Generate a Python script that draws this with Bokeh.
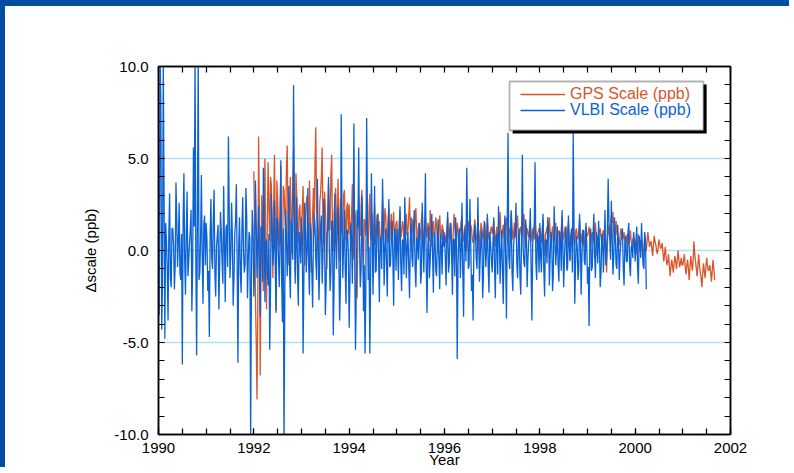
from bokeh.plotting import figure
from bokeh.models import (Range1d, FixedTicker, LinearAxis, PrintfTickFormatter,
                          Legend, LegendItem, BoxAnnotation)
from bokeh.embed import file_html
from bokeh.resources import INLINE

SAMPLES_PER_YEAR = 30

# ---- VLBI scale (ppb): two interleaved lists per year (sample i at i/30 yr, and at (i+0.5)/30 yr) ----
vlbi_1990 = [2.5, 10.5, -4.3, 10.5, -4.8, 0.6, -3.8, 3.1, -2.0, 1.2, -2.1, 3.7, -0.9, 2.6, -1.6,
             -6.2, 4.2, -2.4, 3.2, -0.6, 1.1, -3.3, 5.6, 10.5, -5.7, 10.5, -1.2, 4.1, -2.9, 1.9]
vlbi_1990b = [-3.5, 8.0, -2.0, 3.0, 1.5, -1.0, 0.8, -1.5, 1.2, 0.3, -0.8, 1.6, 0.5, -1.2, 0.9,
              1.8, -0.6, 1.0, -1.4, 0.4, 2.2, -0.9, 1.3, -0.5, 2.0, -1.6, 0.7, -0.3, 1.4, -0.8]
vlbi_1991 = [1.5, -2.2, -4.7, 2.8, -1.0, 3.3, -2.5, 0.8, -3.2, 2.1, -0.6, 3.5, -2.8, 1.4, 6.2,
             -1.5, 2.6, -3.0, 0.9, 3.6, -6.1, 1.8, -2.3, 2.9, -1.2, 3.4, -2.6, 1.0, -10.5, 2.2]
vlbi_1991b = [0.6, -1.1, 0.9, -0.4, 1.7, -1.3, 0.2, 1.4, -0.7, 1.0, -1.8, 0.5, 1.2, -0.9, 2.3,
              -0.2, 0.8, -1.5, 1.6, -0.6, 0.3, -1.2, 1.1, 0.0, -0.8, 1.9, -0.5, 0.7, -1.4, 1.3]
vlbi_1992 = [-2.5, 3.8, -1.5, 2.4, -3.6, 1.2, 4.5, -2.8, 0.6, -1.9, -5.4, 3.1, -0.8, 2.7, -3.3,
             1.5, -2.0, 4.9, -3.9, -10.5, 2.2, -1.4, 3.5, -2.6, 1.0, 9.0, -1.8, 2.9, -3.0, 0.5]
vlbi_1992b = [-1.0, 1.6, 0.2, -0.9, 1.3, -1.7, 2.0, 0.4, -1.2, 0.9, -2.2, 1.5, 0.1, -1.0, 1.8,
              -0.4, 0.6, -1.6, 1.2, -2.4, 0.8, 0.3, -1.1, 1.7, -0.5, 2.6, 0.2, -1.3, 1.0, -0.7]
vlbi_1993 = [1.8, -5.6, 2.6, -1.2, 3.4, -2.4, 0.7, -3.1, 2.0, -0.5, 3.9, -2.7, 1.3, -1.8, 2.8,
             -3.5, 0.9, 4.0, -2.2, 1.6, -4.6, 3.1, -1.0, 2.4, -3.8, 7.4, -1.5, 2.2, -2.9, 1.1]
vlbi_1993b = [0.9, -1.4, 1.2, 0.0, -0.8, 1.5, -1.1, 0.6, 1.3, -1.6, 0.4, -0.6, 1.9, -0.3, 0.8,
              -1.9, 1.1, 0.2, -1.2, 1.6, -2.0, 0.7, 1.4, -0.4, -1.7, 1.8, 0.3, -0.9, 1.1, -0.2]
vlbi_1994 = [-4.2, 1.5, -1.8, 6.9, -5.4, 2.2, 5.6, -2.0, 3.0, -3.3, -5.6, 7.2, -1.6, -5.6, 4.2,
             -2.4, 3.5, -1.1, 2.0, -2.8, 0.6, 3.9, -1.9, 1.2, -2.5, 2.8, -0.8, 1.6, -3.0, 0.9]
vlbi_1994b = [-1.5, 0.8, 1.4, -0.6, -1.9, 1.2, 0.5, -1.1, 1.6, -0.8, -2.1, 1.9, 0.2, -1.4, 1.0,
              0.4, -1.2, 1.3, -0.3, 0.7, -1.0, 1.5, 0.1, -0.7, 1.1, -0.9, 0.6, -0.4, 1.2, -1.1]
vlbi_1995 = [1.2, -1.6, 2.4, -2.2, 0.5, 2.9, -1.5, 1.0, -2.6, 1.8, -0.9, 2.2, -2.0, 0.4, 1.5,
             -1.8, 2.6, -1.2, 4.2, -3.4, 1.3, -0.6, 2.0, -2.3, 0.8, -1.4, 1.7, -2.1, 0.3, 1.1]
vlbi_1995b = [0.3, 1.0, -0.8, 0.6, -1.3, 1.1, 0.2, -0.9, 0.5, -0.4, 1.3, -1.0, 0.7, -0.5, 0.9,
              -1.2, 0.4, 1.2, -0.7, 0.1, -1.5, 0.8, -0.2, 1.0, -1.1, 0.5, -0.6, 0.9, -1.3, 0.2]
vlbi_1996 = [0.8, -1.9, 2.1, -0.7, 1.5, -2.4, 0.6, 1.8, -5.9, 0.9, -1.5, 2.6, -3.6, 1.2, 4.5,
             -1.0, 2.8, -2.2, -3.8, 1.4, -0.5, 2.9, -1.7, 0.7, -2.6, 1.6, -0.9, 2.0, -2.3, 0.4]
vlbi_1996b = [-0.4, 0.9, -1.2, 1.1, -0.3, 0.6, -1.4, 0.8, -0.9, 1.2, 0.0, -1.1, 0.7, -0.6, 1.5,
              -0.8, 0.4, -1.3, 0.2, 0.9, -1.0, 0.6, -0.3, 1.1, -1.4, 0.5, 0.1, -0.9, 1.0, -0.5]
vlbi_1997 = [-1.2, 1.8, -2.6, 0.9, 2.4, -1.8, 1.1, -2.9, 1.9, -3.7, 6.4, -1.0, 2.1, -2.2, 0.8,
             2.6, -1.5, 1.2, -2.4, 5.2, -0.7, 1.7, -2.0, 0.5, 2.3, -3.8, 1.0, 4.8, -1.6, 0.7]
vlbi_1997b = [0.4, -0.9, 0.7, -1.3, 1.0, -0.2, -1.1, 0.8, -0.6, 1.4, -0.4, 0.9, -1.2, 0.3, 1.1,
              -0.7, 0.5, -1.4, 0.6, 0.2, -0.9, 1.2, -0.5, 0.8, -1.0, 0.3, 1.5, -0.6, 0.9, -1.2]
vlbi_1998 = [1.5, -1.2, 2.0, -2.5, 0.6, 1.8, -1.9, 1.0, -2.2, 2.4, -0.8, 1.3, -1.7, 0.4, 2.2,
             -2.0, 0.9, -1.1, 1.9, -0.5, 1.2, 6.4, -2.9, 0.8, -1.6, 2.0, -2.4, 1.1, -0.6, 1.5]
vlbi_1998b = [-0.3, 0.8, -1.0, 0.5, -0.7, 1.2, -0.4, 0.6, -1.3, 0.9, 0.1, -0.8, 1.0, -1.1, 0.4,
              -0.5, 1.3, -0.9, 0.3, 0.8, -1.2, 1.5, -0.6, 0.2, -1.0, 0.7, -0.3, 1.1, -0.8, 0.4]
vlbi_1999 = [-1.8, -4.1, 1.2, -0.9, 2.0, -1.5, 0.7, 1.6, -2.0, 0.9, -1.2, 2.2, -0.4, 3.9, 0.6,
             2.7, -1.3, 1.8, -0.8, 1.4, -1.6, 0.5, 1.2, -1.9, 0.8, -0.6, 1.5, -1.4, 0.3, 1.0]
vlbi_1999b = [-0.9, 0.5, -1.1, 0.8, -0.3, 1.0, -0.7, 0.4, -1.2, 0.6, 0.2, -0.8, 1.1, 1.6, -0.5,
              0.9, -0.4, 0.7, -1.0, 0.5, -0.2, 0.8, -0.9, 0.3, -0.6, 1.0, -0.8, 0.2, -0.4, 0.6]
vlbi_2000 = [-0.6, 1.3, -1.8, 0.4, 1.5, -0.8, 1.0, -2.1]
vlbi_2000b = [0.5, -0.9, 0.8, -0.4, 0.2, -1.0, 0.6]

# ---- GPS scale (ppb) ----
gps_1992 = [4.3, -2.5, -8.1, 6.2, -6.8, 3.0, -2.2, 5.0, -3.2, 4.8, 0.5, 3.6, -1.5, 5.2, -3.4,
            2.8, 0.2, 4.6, -2.0, 3.3, 1.0, 5.7, -0.8, 4.0, 1.8, 5.5, -1.2, 3.0, 0.4, 2.5]
gps_1992b = [1.5, -5.0, -3.0, 2.0, -1.0, 1.2, 2.5, -0.5, 1.8, 2.2, 4.0, 0.8, 2.6, 1.2, 3.8,
             0.9, 2.2, -0.8, 3.5, 2.0, 4.4, 1.4, 2.8, -0.2, 3.6, 1.9, 4.2, 1.0, 2.2, 0.6]
gps_1993 = [1.2, 3.5, -0.8, 2.6, 0.6, 3.8, -1.2, 2.0, 0.9, 6.7, 1.5, -0.5, 3.1, 5.6, 0.3,
            2.4, -1.0, 3.6, 1.1, 5.2, 0.0, 2.8, 1.7, 3.9, -0.6, 2.2, 1.4, 3.3, 0.5, 2.6]
gps_1993b = [2.3, 0.4, 1.8, 3.0, -0.2, 2.1, 1.0, 3.4, 4.8, 2.2, 0.8, 2.6, 4.0, 1.4, 3.2,
             0.6, 1.9, 2.4, 4.1, 1.0, 2.0, 3.4, 0.8, 1.6, 2.8, 0.9, 3.0, 1.6, 2.3, 0.9]
gps_1994 = [2.5, 0.2, 3.6, -0.5, 1.8, -2.6, 2.9, 0.8, 3.3, -1.0, 1.5, 2.8, 0.0, 3.1, 1.2,
            -0.4, 2.5, 0.9, 2.0, 1.6, -0.2, 2.7, 1.0, 1.9, 0.4, 2.3, 1.3, 0.6, 2.1, 1.1]
gps_1994b = [1.0, 1.9, 0.6, 2.2, -0.8, 0.9, 1.5, 2.4, 0.4, 1.7, 0.8, 1.3, 2.2, 0.6, 2.0,
             1.1, 0.3, 1.9, 0.7, 0.5, 1.4, 0.6, 2.3, 0.8, 1.6, 0.5, 2.0, 1.4, 0.7, 1.5]
gps_1995 = [1.6, 0.3, 2.2, 0.9, 1.4, -0.3, 2.0, 1.1, 2.9, 0.5, 1.7, 0.8, 2.3, 0.1, 1.5,
            1.0, 2.1, 0.4, 1.8, 0.7, 1.3, 2.2, 0.2, 1.6, 0.9, 1.4, -0.2, 1.9, 0.6, 1.2]
gps_1995b = [0.9, 1.4, 0.7, 1.6, 0.5, 1.2, 0.8, 1.9, 1.0, 1.3, 0.4, 1.8, 0.9, 1.2, 0.6,
             1.7, 0.8, 1.3, 1.0, 1.5, 0.5, 1.1, 1.4, 0.7, 1.8, 0.6, 1.2, 0.9, 1.4, 0.8]
gps_1996 = [1.0, 0.3, 1.8, 0.6, 1.3, -0.3, 2.0, 0.8, 1.5, 0.2, 1.1, 1.9, 0.5, 1.4, 0.0,
            1.6, 0.9, 1.2, 0.4, 1.7, 0.7, 1.0, -0.2, 1.5, 0.8, 1.3, 0.3, 1.8, 0.6, 1.1]
gps_1996b = [0.7, 1.2, 0.9, 1.5, 0.4, 1.0, 1.3, 0.6, 1.2, 0.9, 1.6, 0.7, 1.1, 0.5, 1.2,
             0.8, 1.4, 0.6, 1.0, 1.3, 0.5, 1.1, 0.8, 1.2, 0.6, 1.5, 0.9, 1.0, 0.7, 1.3]
gps_1997 = [0.9, 1.6, 0.2, 1.3, 0.7, 2.1, 0.5, 1.4, 1.0, 1.8, 0.3, 1.2, 2.2, 0.6, 1.5,
            0.9, 1.9, 0.4, 1.3, 0.8, 2.0, 0.1, 1.2, 0.7, 1.6, 0.5, 1.1, 1.7, 0.4, 1.0]
gps_1997b = [1.2, 0.8, 1.0, 0.6, 1.4, 0.9, 1.1, 0.7, 1.5, 0.6, 1.0, 0.8, 1.3, 1.0, 0.7,
             1.4, 0.6, 1.1, 0.9, 1.5, 0.7, 1.0, 0.9, 1.3, 0.8, 1.2, 0.6, 1.1, 0.9, 1.2]
gps_1998 = [1.2, 0.4, 1.7, -0.3, 1.0, 0.6, 1.8, 0.2, 1.3, 0.8, 1.5, -0.2, 1.1, 0.5, 1.9,
            0.7, 1.3, 0.1, 1.6, -0.6, 0.9, 1.4, 0.3, 1.2, 0.6, 1.7, 0.4, 1.0, 0.2, 1.3]
gps_1998b = [0.8, 1.1, 0.6, 0.9, 1.3, 0.7, 1.0, 0.9, 0.5, 1.2, 0.6, 0.8, 1.0, 1.2, 0.6,
             1.0, 0.7, 1.1, 0.4, 0.9, 1.2, 0.6, 1.0, 0.8, 1.1, 0.7, 0.9, 0.6, 1.0, 0.8]
gps_1999 = [0.8, 1.3, 0.2, 1.0, 0.5, 1.5, -0.3, 0.9, 1.2, 0.4, 1.1, 0.6, -1.2, 1.4, 0.7,
            1.9, 2.1, 0.5, 1.6, 0.8, 0.3, 1.2, 0.6, 1.0, 0.1, 0.9, 0.4, 1.1, 0.2, 0.7]
gps_1999b = [1.0, 0.6, 0.8, 0.5, 1.1, 0.7, 0.6, 1.0, 0.7, 0.9, 0.4, 0.5, 0.3, 1.0, 1.2,
             1.5, 1.1, 1.0, 0.9, 0.6, 0.8, 0.9, 0.7, 0.5, 0.6, 0.7, 0.6, 0.5, 0.6, 0.4]
gps_2000 = [0.5, -0.2, 0.9, 0.1, 0.6, -0.4, 0.7, 0.0, 1.0, 0.2, 0.5, -0.3, 0.8, 0.3, -0.2,
            0.6, 0.1, 0.4, -0.6, 0.2, -0.8, -0.2, -1.4, -0.5, -1.2, -0.3, -1.0, 0.0, -0.9, -0.4]
gps_2000b = [0.2, 0.3, 0.4, 0.5, 0.1, 0.2, 0.4, 0.5, 0.6, 0.4, 0.1, 0.3, 0.5, 0.0, 0.2,
             0.3, 0.2, -0.1, -0.2, -0.4, -0.6, -0.8, -0.9, -0.8, -0.7, -0.6, -0.5, -0.5, -0.7, -0.8]
gps_2001 = [-0.8, -0.2, -1.3, -0.5, -1.6, -0.3, -1.1, 0.5, -0.6, -1.4, -0.2, -1.2, -2.0, -0.7,
            -1.5, -0.4, -1.1, -0.8, -1.7, -0.5, -1.6]
gps_2001b = [-0.5, -0.9, -0.8, -1.0, -0.9, -0.7, -0.5, -0.2, -1.0, -0.8, -0.8, -1.5, -1.3, -1.1,
             -0.9, -0.8, -1.0, -1.2, -1.1, -1.0]

vlbi_by_year = {1990: (vlbi_1990, vlbi_1990b), 1991: (vlbi_1991, vlbi_1991b),
                1992: (vlbi_1992, vlbi_1992b), 1993: (vlbi_1993, vlbi_1993b),
                1994: (vlbi_1994, vlbi_1994b), 1995: (vlbi_1995, vlbi_1995b),
                1996: (vlbi_1996, vlbi_1996b), 1997: (vlbi_1997, vlbi_1997b),
                1998: (vlbi_1998, vlbi_1998b), 1999: (vlbi_1999, vlbi_1999b),
                2000: (vlbi_2000, vlbi_2000b)}
gps_by_year = {1992: (gps_1992, gps_1992b), 1993: (gps_1993, gps_1993b),
               1994: (gps_1994, gps_1994b), 1995: (gps_1995, gps_1995b),
               1996: (gps_1996, gps_1996b), 1997: (gps_1997, gps_1997b),
               1998: (gps_1998, gps_1998b), 1999: (gps_1999, gps_1999b),
               2000: (gps_2000, gps_2000b), 2001: (gps_2001, gps_2001b)}

x_major = [1990, 1992, 1994, 1996, 1998, 2000, 2002]
y_major = [-10, -5, 0, 5, 10]
y_grid = [-5, 0, 5]


def series(by_year):
    pts = []
    for yr, (main, half) in by_year.items():
        for i, v in enumerate(main):
            pts.append((yr + i / SAMPLES_PER_YEAR, v))
        for i, v in enumerate(half):
            pts.append((yr + (i + 0.5) / SAMPLES_PER_YEAR, v))
    pts.sort()
    return [a for a, _ in pts], [b for _, b in pts]


gps_x, gps_y = series(gps_by_year)
vlbi_x, vlbi_y = series(vlbi_by_year)

ORANGE = "#D9552B"
BLUE = "#0B62D5"
FONT = "Liberation Sans"

p = figure(width=789, height=467, x_range=Range1d(1990, 2002), y_range=Range1d(-10, 10),
           output_backend="svg", toolbar_location=None,
           min_border_left=153, min_border_right=64, min_border_top=60, min_border_bottom=39)
p.styles = {"border-top": "6px solid #004EA2", "border-left": "5px solid #004EA2"}
p.outline_line_color = "black"
p.outline_line_width = 1.5
p.background_fill_color = "white"
p.border_fill_color = "white"

x_minor = [1990 + 0.5 * i for i in range(25)]
y_minor = list(range(-10, 11))
xt = FixedTicker(ticks=x_major, minor_ticks=x_minor)
yt = FixedTicker(ticks=y_major, minor_ticks=y_minor)

bottom_ax = p.below[0]
left_ax = p.left[0]
bottom_ax.ticker = xt
left_ax.ticker = yt
left_ax.formatter = PrintfTickFormatter(format="%.1f")
bottom_ax.formatter = PrintfTickFormatter(format="%d")

# top / right axes: tick marks only (no major ticks -> no labels)
top_ax = LinearAxis(ticker=FixedTicker(ticks=[], minor_ticks=x_minor))
right_ax = LinearAxis(ticker=FixedTicker(ticks=[], minor_ticks=y_minor))
p.add_layout(top_ax, "above")
p.add_layout(right_ax, "right")

for ax in [bottom_ax, left_ax, top_ax, right_ax]:
    ax.axis_line_color = "black"
    ax.axis_line_width = 1.5
    ax.major_tick_in = 6
    ax.major_tick_out = 0
    ax.minor_tick_in = 6
    ax.minor_tick_out = 0
    ax.major_tick_line_color = "black"
    ax.minor_tick_line_color = "black"
    ax.major_tick_line_width = 1.2
    ax.minor_tick_line_width = 1.2
    ax.major_label_text_font = FONT
    ax.major_label_text_font_size = "15px"
    ax.major_label_text_color = "black"
    ax.axis_label_text_font = FONT
    ax.axis_label_text_font_size = "15px"
    ax.axis_label_text_font_style = "normal"
    ax.axis_label_text_color = "black"

bottom_ax.axis_label = "Year"
bottom_ax.major_label_standoff = 8
bottom_ax.axis_label_standoff = -5
left_ax.axis_label = "Δscale (ppb)"
left_ax.major_label_standoff = 10
left_ax.axis_label_standoff = 12

p.xgrid.visible = False
p.ygrid.ticker = FixedTicker(ticks=y_grid)
p.ygrid.grid_line_color = "#55C4E8"
p.ygrid.grid_line_width = 1.5
p.ygrid.grid_line_dash = "1 1"

r_gps = p.line(gps_x, gps_y, line_color=ORANGE, line_width=1.3)
r_vlbi = p.line(vlbi_x, vlbi_y, line_color=BLUE, line_width=1.3)

# legend frame with drop shadow
shadow = BoxAnnotation(left=1997.43, right=2001.50, top=9.02, bottom=6.36,
                       fill_color="black", fill_alpha=1, line_alpha=0)
frame = BoxAnnotation(left=1997.364, right=2001.434, top=9.185, bottom=6.522,
                      fill_color="white", fill_alpha=1, line_color="black", line_width=1.8)
p.add_layout(shadow)
p.add_layout(frame)

for renderer, label, color, loc in [(r_gps, "GPS Scale (ppb)", ORANGE, (362, 331)),
                                   (r_vlbi, "VLBI Scale (ppb)", BLUE, (362, 315))]:
    leg = Legend(items=[LegendItem(label=label, renderers=[renderer])], location=loc,
                 glyph_width=45, glyph_height=16, label_height=16, label_standoff=5,
                 padding=0, margin=0, spacing=0, border_line_alpha=0,
                 background_fill_alpha=0, label_text_font=FONT,
                 label_text_font_size="16px", label_text_color=color)
    p.add_layout(leg)

open("out.html", "w").write(file_html(p, INLINE))
